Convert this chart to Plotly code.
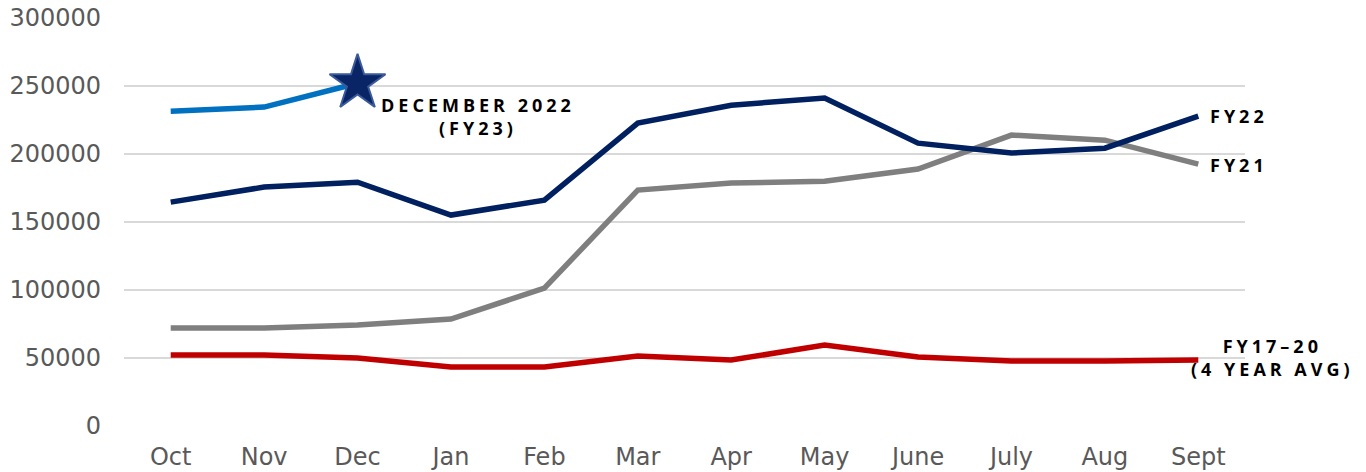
import plotly.graph_objects as go

months = ["Oct", "Nov", "Dec", "Jan", "Feb", "Mar", "Apr", "May", "June", "July", "Aug", "Sept"]
fy23 = [231500, 234500, 252000]
fy22 = [164600, 175700, 179300, 155100, 166100, 222700, 235900, 241100, 208000, 200700, 204300, 227800]
fy21 = [72000, 72000, 74200, 78600, 101400, 173500, 178600, 180000, 188900, 213900, 210200, 192600]
fy1720 = [52200, 52200, 50000, 43400, 43400, 51500, 48500, 59500, 50700, 47800, 47800, 48500]
yticks = [0, 50000, 100000, 150000, 200000, 250000, 300000]

fig = go.Figure()
fig.add_trace(go.Scatter(x=months, y=fy1720, mode="lines", line=dict(color="#C00000", width=5.5), name="FY17-20"))
fig.add_trace(go.Scatter(x=months, y=fy21, mode="lines", line=dict(color="#7F7F7F", width=5.5), name="FY21"))
fig.add_trace(go.Scatter(x=months, y=fy22, mode="lines", line=dict(color="#002060", width=5.5), name="FY22"))
fig.add_trace(go.Scatter(x=months[:3], y=fy23, mode="lines", line=dict(color="#0070C0", width=5.5), name="FY23"))
fig.add_trace(go.Scatter(x=[months[2]], y=[fy23[-1]], mode="markers",
                         marker=dict(symbol="star", size=42, color="#0A2566", line=dict(color="#3A5A9A", width=2)),
                         name="Dec 2022"))

lab = dict(family="Open Sans", size=18, color="#000000")
def sp(t):
    return '<span style="letter-spacing:4px">' + t + '</span>'

fig.add_annotation(x=(478 - 124) / 1121, y=(426 - 116) / 408, xref="paper", yref="paper", showarrow=False,
                   xanchor="center", yanchor="middle",
                   text="<b>" + sp("DECEMBER 2022") + "<br>" + sp("(FY23)") + "</b>", font=lab, align="center")
fig.add_annotation(x=(1208 - 124) / 1121, y=(426 - 116) / 408, xref="paper", yref="paper", showarrow=False,
                   xanchor="left", yanchor="middle",
                   text="<b>" + sp("FY22") + "</b>", font=lab)
fig.add_annotation(x=(1208 - 124) / 1121, y=(426 - 165) / 408, xref="paper", yref="paper", showarrow=False,
                   xanchor="left", yanchor="middle",
                   text="<b>" + sp("FY21") + "</b>", font=lab)
fig.add_annotation(x=(1272 - 124) / 1121, y=(426 - 357) / 408, xref="paper", yref="paper", showarrow=False,
                   xanchor="center", yanchor="middle",
                   text="<b>" + sp("FY17–20") + "<br>" + sp("(4 YEAR AVG)") + "</b>", font=lab, align="center")

fig.update_layout(
    width=1366, height=472,
    margin=dict(l=124, r=121, t=18, b=46, autoexpand=False),
    paper_bgcolor="white", plot_bgcolor="white",
    showlegend=False,
    font=dict(family="DejaVu Sans", size=24, color="#595959"),
)
fig.update_xaxes(type="category", range=[-0.5, 11.5], automargin=False, showgrid=False, showline=False,
                 zeroline=False, ticks="", ticklabelstandoff=14, ticklabeloverflow="allow",
                 tickfont=dict(family="DejaVu Sans", size=24, color="#595959"))
fig.update_yaxes(range=[0, 300000], tickvals=yticks, ticktext=[str(v) for v in yticks], automargin=False,
                 showgrid=True, gridcolor="#D9D9D9", gridwidth=2, zeroline=False, showline=False,
                 ticklabelstandoff=22, ticklabeloverflow="allow",
                 tickfont=dict(family="DejaVu Sans", size=24, color="#595959"))

fig.write_html("out.html", config={"displayModeBar": False},
               post_script="document.body.style.margin='0';")
